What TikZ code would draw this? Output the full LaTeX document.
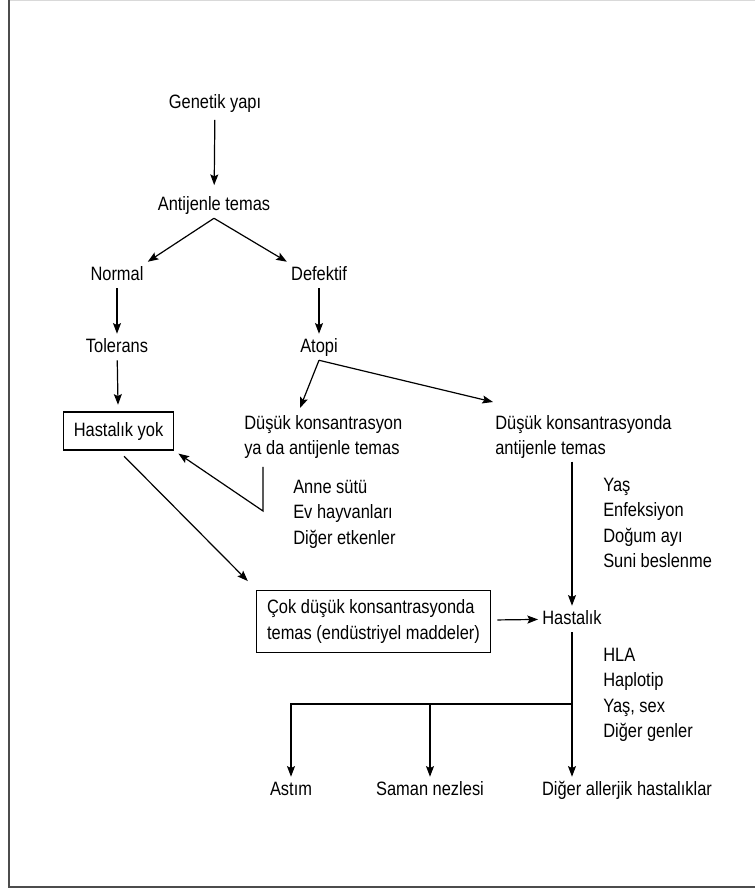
\documentclass[tikz,border=0pt]{standalone}
\usepackage{fontspec}
\setmainfont[FakeStretch=0.85]{Liberation Sans}
\usetikzlibrary{positioning}
\usetikzlibrary{arrows.meta}
\usetikzlibrary{calc}
\tikzset{
    mytext/.style = {inner sep=3pt, text height=10.5pt, text depth=3pt, font=\fontsize{14.5pt}{19pt}\selectfont},
    mybox/.style = {mytext, draw=black, line width=0.9pt, inner xsep=5pt},
    mybigbox/.style = {draw=black, line width=0.9pt, align=left, inner xsep=5pt, font=\fontsize{14.5pt}{19pt}\selectfont},
    mylist/.style = {inner sep=0pt, anchor=north west, align=left, font=\fontsize{14.5pt}{19pt}\selectfont},
    edgea/.style = {-{Stealth[length=8pt,width=6pt,inset=1.5pt]}, line width=0.9pt, black},
    frameline/.style = {line width=1.5pt, black!70},
}
\begin{document}
\begin{tikzpicture}[x=0.75pt, y=-0.75pt]
  \useasboundingbox (0,0) rectangle (755,888);
  % frame
  \draw[gray!30, line width=0.75pt] (8.5,0.5) -- (755,0.5);
  \draw[frameline] (8.5,0) -- (8.5,886.5) -- (755,886.5);

  \node[mytext] (gen) at (215,104) {Genetik yapı};
  \node[mytext] (ant) at (214,205) {Antijenle temas};
  \node[mytext] (norm) at (117,275) {Normal};
  \node[mytext] (def) at (319,275) {Defektif};
  \node[mytext] (tol) at (117,347) {Tolerans};
  \node[mytext] (atopi) at (319,347) {Atopi};
  \node[mybox, minimum width=83pt, minimum height=28.5pt] (yok) at (118.5,431) {Hastalık yok};
  \node[mylist] (dus1) at (244,415) {Düşük konsantrasyon\\ya da antijenle temas};
  \node[mylist] (dus2) at (495,415) {Düşük konsantrasyonda\\antijenle temas};
  \node[mylist] (anne) at (293,480) {Anne sütü\\Ev hayvanları\\Diğer etkenler};
  \node[mylist] (yas) at (603,478) {Yaş\\Enfeksiyon\\Doğum ayı\\Suni beslenme};
  \node[mybigbox, minimum width=175pt, minimum height=47pt] (cok) at (373.5,621.5)
    {Çok düşük konsantrasyonda\\temas (endüstriyel maddeler)};
  \node[mytext] (hast) at (572,619) {Hastalık};
  \node[mylist] (hla) at (603,648) {HLA\\Haplotip\\Yaş, sex\\Diğer genler};
  \node[mytext] (astim) at (291,790) {Astım};
  \node[mytext] (saman) at (430,790) {Saman nezlesi};
  \node[mytext] (diger) at (627,790) {Diğer allerjik hastalıklar};

  \coordinate (ret) at (263,511);
  \coordinate (br) at (572,704);

  \draw[edgea, shorten <=2pt, shorten >=5pt] (gen) -- (ant);
  \draw[edgea] (ant.south) -- (norm.north east);
  \draw[edgea] (ant.south) -- (def.north west);
  \draw[edgea] (norm) -- (tol);
  \draw[edgea] (def) -- (atopi);
  \draw[edgea, shorten >=5pt] (tol) -- (yok);
  \draw[edgea] (atopi.south) -- ($(dus1.north west)+(56,-7)$);
  \draw[edgea] (atopi.south) -- ($(dus2.north west)+(-2,-13)$);
  \draw[edgea, shorten <=6pt] (ret |- dus1.south) -- (ret) -- ($(yok.south east)+(4,3)$);
  \draw[edgea, shorten <=6pt, shorten >=9pt] (yok.south) -- (cok.north west);
  \draw[edgea, shorten <=5pt] (cok) -- (hast);
  \draw[edgea, shorten <=2pt] (dus2.south -| hast) -- (hast);
  \draw[edgea] (hast) -- (hast |- diger.north);
  \draw[edgea] (br) -| (astim.north);
  \draw[edgea] (br -| saman) -- (saman);
\end{tikzpicture}
\end{document}
